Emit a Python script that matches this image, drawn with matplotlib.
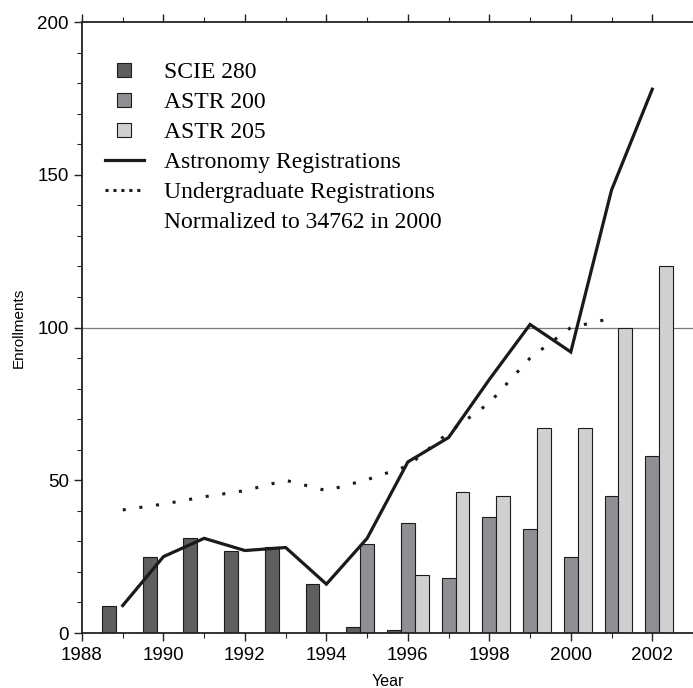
import numpy as np
import matplotlib
matplotlib.use("Agg")
import matplotlib.pyplot as plt
from matplotlib.lines import Line2D
from matplotlib.patches import Patch, Rectangle
from matplotlib.legend_handler import HandlerPatch

# データ
years = [1989, 1990, 1991, 1992, 1993, 1994, 1995, 1996, 1997, 1998, 1999, 2000, 2001, 2002]
scie280 = [9, 25, 31, 27, 28, 16, 2, 1, 0, 0, 0, 0, 0, 0]
astr200 = [0, 0, 0, 0, 0, 0, 29, 36, 18, 38, 34, 25, 45, 58]
astr205 = [0, 0, 0, 0, 0, 0, 0, 19, 46, 45, 67, 67, 100, 120]
astro_reg = [9, 25, 31, 27, 28, 16, 31, 56, 64, 83, 101, 92, 145, 178]
ugrad_years = [1989, 1990, 1991, 1992, 1993, 1994, 1995, 1996, 1997, 1998, 1999, 2000, 2001]
ugrad_reg = [40.3, 42.2, 44.6, 46.6, 50, 46.6, 50.2, 54.7, 65.6, 75.3, 90, 100, 103]

c_scie = "#5e5e60"
c_a200 = "#8f9094"
c_a205 = "#cfd0d2"
edge = "#1c1c1c"


# 凡例の四角いマーカー
class SquareHandler(HandlerPatch):
    def create_artists(self, legend, orig_handle, xdescent, ydescent,
                       width, height, fontsize, trans):
        s = 0.62 * fontsize
        x0 = -xdescent + (width - s) / 2
        y0 = -ydescent + (height - s) / 2
        p = Rectangle((x0, y0), s, s, facecolor=orig_handle.get_facecolor(),
                      edgecolor=orig_handle.get_edgecolor(), linewidth=0.8)
        p.set_transform(trans)
        return [p]


fig = plt.figure(figsize=(6.93, 6.88), dpi=100)
ax = fig.add_axes([0.1183, 0.0799, 0.8817, 0.8881])

yrs = np.array(years, dtype=float)
w = 0.34


# 値が0の年は棒を描かない
def bars(x, vals, color):
    xs = [xi for xi, v in zip(x, vals) if v > 0]
    vs = [v for v in vals if v > 0]
    ax.bar(xs, vs, width=w, color=color, edgecolor=edge, linewidth=0.8, zorder=2)


bars(yrs - w, scie280, c_scie)
bars(yrs, astr200, c_a200)
bars(yrs + w, astr205, c_a205)

ax.axhline(100, color="#7a7a7a", linewidth=0.9, zorder=1)
ax.plot(years, astro_reg, color="#1a1a1a", linewidth=2.3, zorder=3, solid_joinstyle="miter")
ax.plot(ugrad_years, ugrad_reg, color="#1a1a1a", linewidth=2.2, linestyle=(0, (1, 4.5)),
        dash_capstyle="butt", zorder=3)

ax.set_xlim(1988, 2003)
ax.set_ylim(0, 200)
ax.set_xticks(np.arange(1988, 2003, 2))
ax.set_xticks(np.arange(1988, 2004, 1), minor=True)
ax.set_yticks([0, 50, 100, 150, 200])
ax.set_yticks(np.arange(0, 201, 10), minor=True)

tick_font = "Liberation Sans"
for lab in ax.get_xticklabels() + ax.get_yticklabels():
    lab.set_fontfamily(tick_font)
    lab.set_fontsize(13.5)
ax.tick_params(which="major", direction="out", length=6, width=1, top=True, color="#222222")
ax.tick_params(which="minor", direction="out", length=3.5, width=0.8, top=True, color="#222222")
ax.tick_params(axis="x", pad=4)
ax.spines["right"].set_visible(False)
for s in ["left", "top", "bottom"]:
    ax.spines[s].set_linewidth(1.3)
    ax.spines[s].set_color("#222222")

ax.set_xlabel("Year", fontfamily=tick_font, fontsize=11.5, labelpad=7)
ax.set_ylabel("Enrollments", fontfamily=tick_font, fontsize=11, labelpad=8)

handles = [
    Patch(facecolor=c_scie, edgecolor=edge),
    Patch(facecolor=c_a200, edgecolor=edge),
    Patch(facecolor=c_a205, edgecolor=edge),
    Line2D([], [], color="#1a1a1a", linewidth=2.3),
    Line2D([], [], color="#1a1a1a", linewidth=2.2, linestyle=(0, (1, 1.6)), dash_capstyle="butt"),
    Line2D([], [], color="none"),
]
labels = ["SCIE 280", "ASTR 200", "ASTR 205", "Astronomy Registrations",
          "Undergraduate Registrations", "Normalized to 34762 in 2000"]
ax.legend(handles, labels, loc="upper left", bbox_to_anchor=(0.01, 0.962),
          frameon=False, prop={"family": "Liberation Serif", "size": 17},
          handlelength=1.65, handleheight=0.7, handletextpad=0.85,
          labelspacing=0.36, borderpad=0.2,
          handler_map={Patch: SquareHandler()})

fig.savefig("out.png", dpi=100)
